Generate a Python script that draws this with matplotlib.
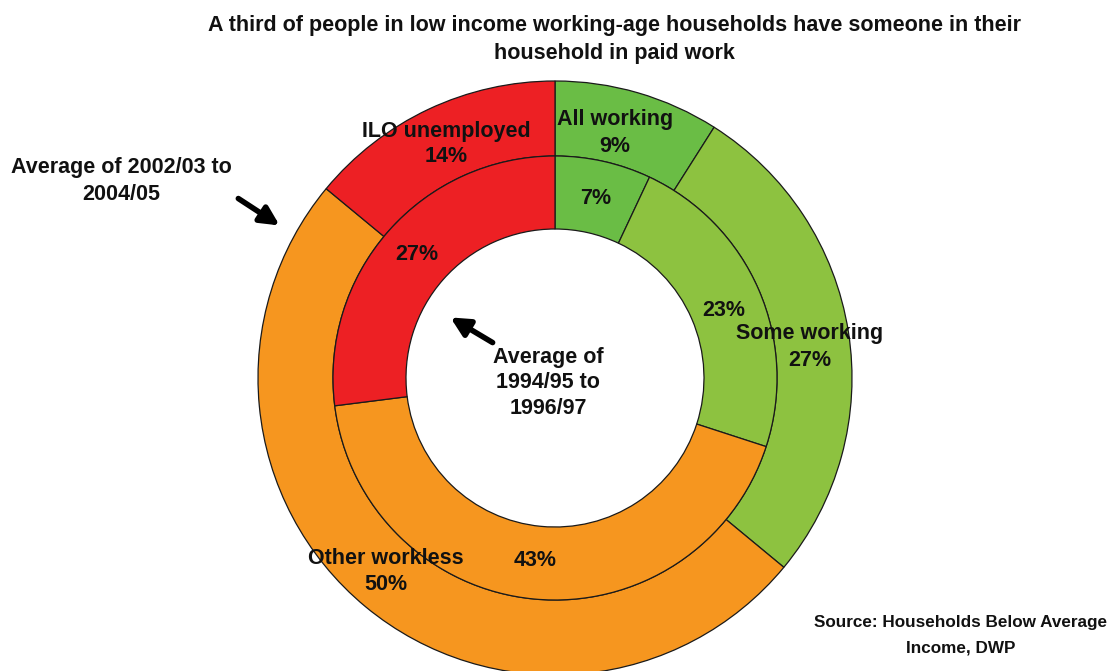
import matplotlib.pyplot as plt

# outer ring: average of 2002/03 to 2004/05, inner ring: 1994/95 to 1996/97
categories = ['All working', 'Some working', 'Other workless', 'ILO unemployed']
outer_vals = [9, 27, 50, 14]
inner_vals = [7, 23, 43, 27]
colors = ['#6abd45', '#8dc240', '#f6961f', '#ed2024']

W, H = 1110, 671
CX, CY = 555, 378
R_OUT, R_MID, R_IN = 297, 222, 149

plt.rcParams['font.family'] = ['Liberation Sans', 'DejaVu Sans']

fig = plt.figure(figsize=(W / 100, H / 100), dpi=100)
ax = fig.add_axes([0, 0, 1, 1])

wedge = dict(edgecolor='#1a1a1a', linewidth=0.9)
ax.pie(outer_vals, colors=colors, radius=R_OUT, center=(CX, CY),
       startangle=-90, counterclock=True,
       wedgeprops=dict(width=R_OUT - R_MID, **wedge))
ax.pie(inner_vals, colors=colors, radius=R_MID, center=(CX, CY),
       startangle=-90, counterclock=True,
       wedgeprops=dict(width=R_MID - R_IN, **wedge))

ax.set_xlim(0, W)
ax.set_ylim(H, 0)
ax.axis('off')

fs = 15.5
txt = dict(ha='center', va='center', fontsize=fs, fontweight='bold', color='#111111')

# outer ring labels
ax.text(615, 120, categories[0], **txt)
ax.text(615, 146, f'{outer_vals[0]}%', **txt)
ax.text(810, 334, categories[1], **txt)
ax.text(810, 360, f'{outer_vals[1]}%', **txt)
ax.text(386, 558, categories[2], **txt)
ax.text(386, 585, f'{outer_vals[2]}%', **txt)
ax.text(446, 131, categories[3], **txt)
ax.text(446, 157, f'{outer_vals[3]}%', **txt)

# inner ring labels
ax.text(596, 199, f'{inner_vals[0]}%', **txt)
ax.text(724, 310, f'{inner_vals[1]}%', **txt)
ax.text(535, 560, f'{inner_vals[2]}%', **txt)
ax.text(417, 254, f'{inner_vals[3]}%', **txt)

# title
ax.text(614, 25, 'A third of people in low income working-age households have someone in their', **txt)
ax.text(614, 54, 'household in paid work', **txt)

# ring annotations
ax.text(121, 168, 'Average of 2002/03 to', **txt)
ax.text(121, 195, '2004/05', **txt)
ax.annotate('', xy=(282, 227), xytext=(236, 197),
            arrowprops=dict(arrowstyle='-|>', lw=4, color='black', mutation_scale=28))

ax.text(548, 357, 'Average of', **txt)
ax.text(548, 383, '1994/95 to', **txt)
ax.text(548, 409, '1996/97', **txt)
ax.annotate('', xy=(448, 316), xytext=(495, 344),
            arrowprops=dict(arrowstyle='-|>', lw=4, color='black', mutation_scale=28))

# source
src = dict(ha='center', va='center', fontsize=12.3, fontweight='bold', color='#111111')
ax.text(961, 623, 'Source: Households Below Average', **src)
ax.text(961, 648, 'Income, DWP', **src)

fig.savefig('out.png', dpi=100)
